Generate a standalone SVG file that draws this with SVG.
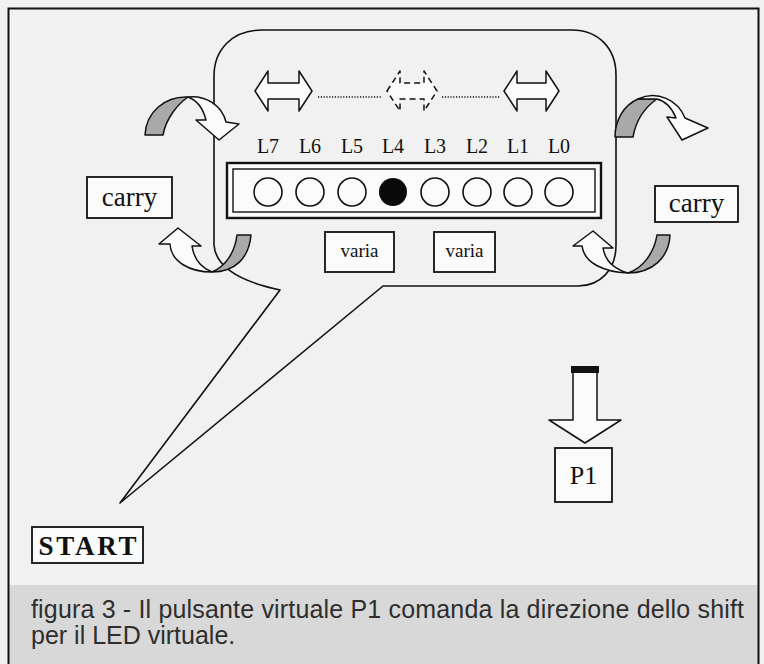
<svg xmlns="http://www.w3.org/2000/svg" width="764" height="664" viewBox="0 0 764 664">
<style>
.ln{fill:none;stroke:#111;stroke-width:1.6;stroke-linejoin:round}
.box{fill:#fbfbfb;stroke:#111;stroke-width:1.8}
.tm{font-family:"Liberation Serif","Times New Roman",serif;fill:#111;text-anchor:middle}
.wh{fill:#fbfbfb;stroke:#111;stroke-width:1.5;stroke-linejoin:round}
.gr{fill:#a9a9a9;stroke:#111;stroke-width:1.5;stroke-linejoin:round}
.led{fill:#fbfbfb;stroke:#111;stroke-width:1.6}
.cap{font-family:"Liberation Sans",Arial,sans-serif;font-size:25px;fill:#2e2e2e}
</style>
<rect x="0" y="0" width="764" height="664" fill="#f1f1f1"/>
<rect x="9" y="585" width="749" height="79" fill="#d8d8d8"/>
<path d="M8.5,680 V8.5 H758.5 V680" fill="none" stroke="#111" stroke-width="2"/>

<g id="connectors">
  <path id="bubble" class="ln" d="M383,286 L120,503 L280,290 C252,284 216,272 214,245 L214,76 C214,50 232,30 262,30 L572,30 C598,30 616,48 616,75 L616,245 C616,270 600,286 578,286 Z"/>
  <path class="ln" d="M318,97 H382 M442,97 H500" stroke-dasharray="1.2 1.6" stroke-width="1.2"/>
</g>

<g id="shift-arrows">
  <path class="wh" d="M255,91 L268,71 L268,83 L299,83 L299,71 L312,91 L299,111 L299,99 L268,99 L268,111 Z"/>
  <path class="wh" d="M387,91 L400,71 L400,83 L424,83 L424,71 L437,91 L424,111 L424,99 L400,99 L400,111 Z" stroke-dasharray="6 4"/>
  <path class="wh" d="M504,91 L517,71 L517,83 L546,83 L546,71 L559,91 L546,111 L546,99 L517,99 L517,111 Z"/>
</g>

<g id="carry-arrow-top-left">
  <path class="gr" d="M145,135 C146,112 165,96 188,97 C178,104 166,118 163,135 Z"/>
  <path class="wh" d="M188,97 C205,95 222,105 226,122 L239,124 L219,140 L196,120 L206,120 C203,108 196,100 188,97 Z"/>
</g>
<g id="carry-arrow-bottom-left">
  <path class="wh" d="M170,244 L159,244 L178,228 L201,246 L192,246 C194,260 202,268 212,272 C190,272 171,262 170,244 Z"/>
  <path class="gr" d="M212,272 C226,266 235,252 237,235 L251,235 C249,258 235,272 212,272 Z"/>
</g>
<g id="carry-arrow-top-right">
  <path class="gr" d="M615,137 C615,120 624,105 638,99 L657,99 C644,108 636,120 633,137 Z"/>
  <path class="wh" d="M638,99 C657,90 678,100 685,118 L708,128 L682,140 L667,117 L676,118 C672,108 665,101 657,99 Z"/>
</g>
<g id="carry-arrow-bottom-right">
  <path class="wh" d="M582,246 L573,246 L593,231 L613,248 L603,248 C605,260 614,269 628,273 C604,272 584,263 582,246 Z"/>
  <path class="gr" d="M628,273 C643,268 654,253 657,235 L670,235 C669,258 652,273 628,273 Z"/>
</g>

<g id="led-bar">
  <rect x="227" y="163" width="374" height="55" fill="#fbfbfb" stroke="#111" stroke-width="2.4"/>
  <rect x="233" y="169" width="362" height="43" fill="none" stroke="#111" stroke-width="1.4"/>
  <circle class="led" cx="268" cy="192" r="14"/>
  <circle class="led" cx="310" cy="192" r="14"/>
  <circle class="led" cx="352" cy="192" r="14"/>
  <circle cx="393" cy="192" r="14" fill="#0a0a0a"/>
  <circle class="led" cx="435" cy="192" r="14"/>
  <circle class="led" cx="477" cy="192" r="14"/>
  <circle class="led" cx="518" cy="192" r="14"/>
  <circle class="led" cx="559" cy="192" r="14"/>
</g>
<g id="led-labels" class="tm" font-size="20">
  <text x="268" y="153">L7</text>
  <text x="310" y="153">L6</text>
  <text x="352" y="153">L5</text>
  <text x="393" y="153">L4</text>
  <text x="435" y="153">L3</text>
  <text x="477" y="153">L2</text>
  <text x="518" y="153">L1</text>
  <text x="559" y="153">L0</text>
</g>

<g id="carry-left">
  <rect class="box" x="87" y="177" width="85" height="41"/>
  <text class="tm" x="129.5" y="206" font-size="27">carry</text>
</g>
<g id="carry-right">
  <rect class="box" x="655" y="186" width="83" height="36"/>
  <text class="tm" x="696.5" y="212" font-size="27">carry</text>
</g>
<g id="varia-left">
  <rect class="box" x="325" y="232" width="69" height="40"/>
  <text class="tm" x="359.5" y="257" font-size="19">varia</text>
</g>
<g id="varia-right">
  <rect class="box" x="434" y="232" width="61" height="40"/>
  <text class="tm" x="464.5" y="257" font-size="19">varia</text>
</g>

<g id="p1-arrow">
  <path class="wh" d="M573,372 L597,372 L597,420 L621,420 L585,443 L549,420 L573,420 Z"/>
  <rect x="571" y="366" width="28" height="7" fill="#111"/>
</g>
<g id="p1">
  <rect class="box" x="555" y="448" width="57" height="54"/>
  <text class="tm" x="583.5" y="484" font-size="26">P1</text>
</g>
<g id="start">
  <rect class="box" x="32" y="527" width="111" height="36" stroke-width="2.6"/>
  <text class="tm" x="87.5" y="555" font-size="27" font-weight="bold" textLength="98" lengthAdjust="spacing">START</text>
</g>

<g id="caption">
  <text class="cap" x="31" y="618" textLength="713" lengthAdjust="spacing">figura 3 - Il pulsante virtuale P1 comanda la direzione dello shift</text>
  <text class="cap" x="31" y="644">per il LED virtuale.</text>
</g>
</svg>
